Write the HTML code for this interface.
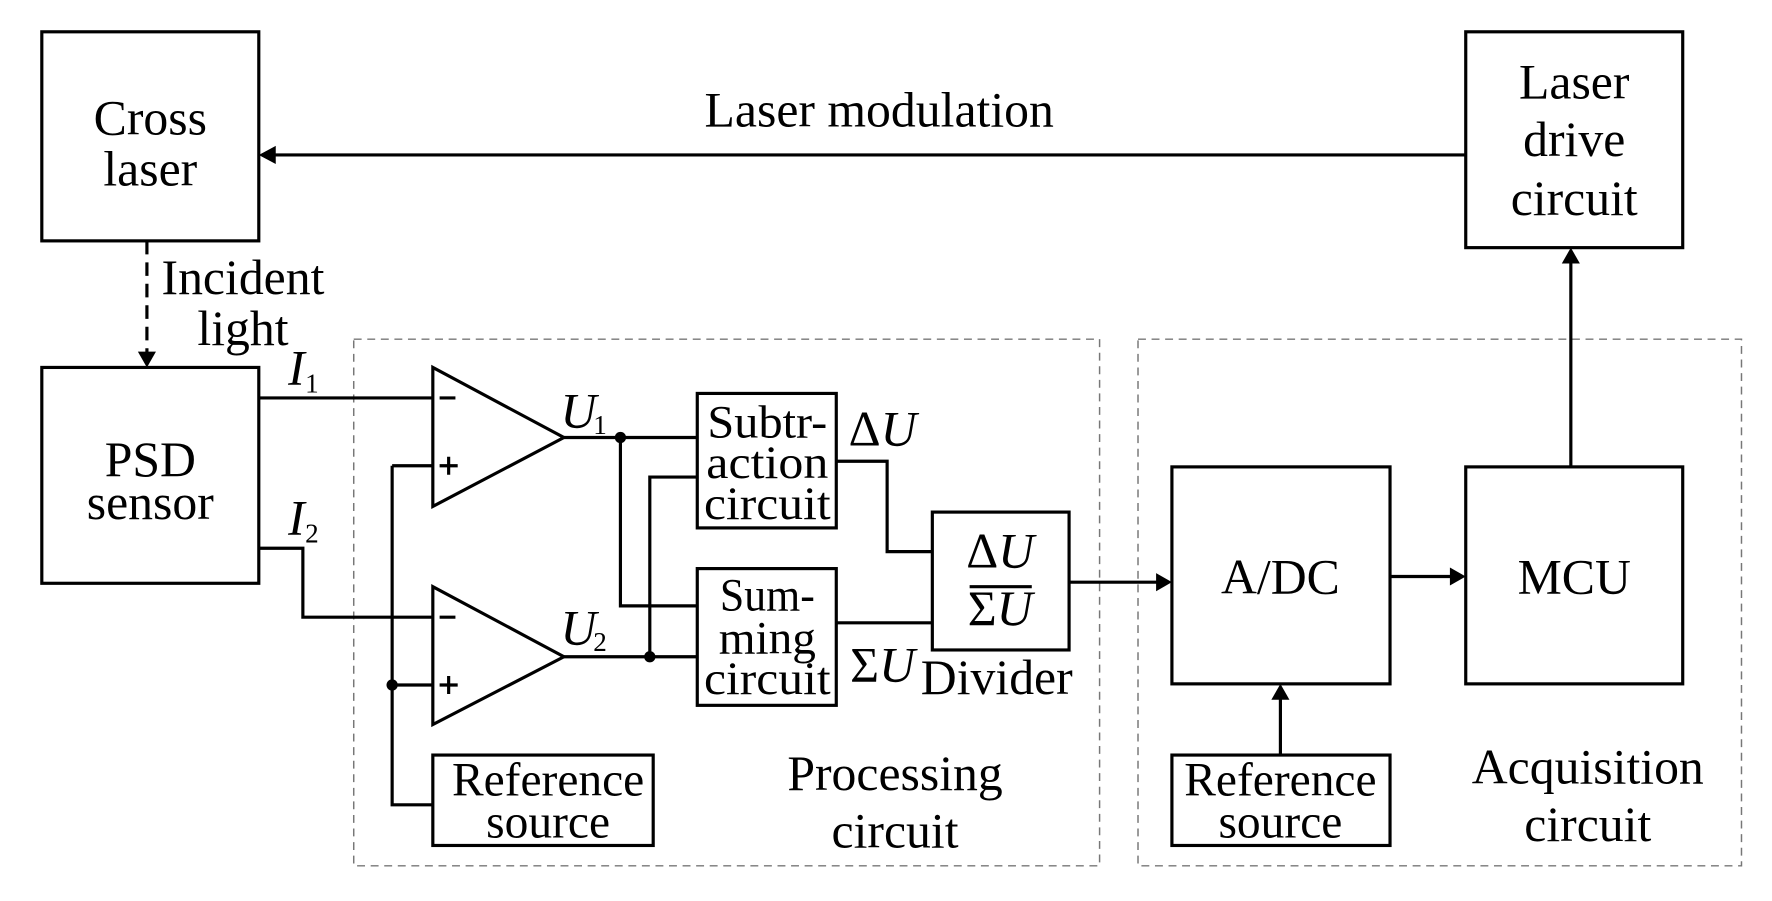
<!DOCTYPE html>
<html><head><meta charset="utf-8"><style>html,body{margin:0;padding:0;background:#fff}svg{display:block}text{font-family:"Liberation Serif","Times New Roman",serif}</style></head><body>
<svg width="1772" height="901" viewBox="0 0 1568 797" xmlns="http://www.w3.org/2000/svg" fill="none" stroke="#000" stroke-width="2.8">
<g stroke-width="1.3" stroke="#777" stroke-dasharray="7,5">
<rect x="313" y="300" width="660" height="466"/>
<rect x="1007" y="300" width="534" height="466"/>
</g>
<rect x="37" y="28" width="192" height="185"/>
<rect x="1297" y="28" width="192" height="191"/>
<rect x="37" y="325" width="192" height="191"/>
<rect x="617" y="348" width="123" height="119"/>
<rect x="617" y="503" width="123" height="121"/>
<rect x="825" y="453" width="121" height="122"/>
<rect x="383" y="668" width="195" height="80"/>
<rect x="1037" y="413" width="193" height="192"/>
<rect x="1297" y="413" width="192" height="192"/>
<rect x="1037" y="668" width="193" height="80"/>
<path d="M383,325 L499,387 L383,448 Z M383,519 L499,581 L383,641 Z"/>
<g>
<path d="M1297,137 H240"/><path d="M244,129 L229,137 L244,145 Z" fill="#000" stroke="none"/>
<path d="M130,213 V315" stroke-dasharray="12,7"/><path d="M122,311 L130,325 L138,311 Z" fill="#000" stroke="none"/>
<path d="M229,352 H383 M229,485 H268 V546 H383 M347,412 H383 M347,412 V712 H383 M347,606 H383"/>
<path d="M499,387 H617 M549,387 V536 H617 M499,581 H617 M575,581 V422 H617"/>
<path d="M740,408 H785 V488 H825 M740,551 H825"/>
<path d="M946,515 H1025"/><path d="M1023,507 L1037,515 L1023,523 Z" fill="#000" stroke="none"/>
<path d="M1230,510 H1285"/><path d="M1283,502 L1297,510 L1283,518 Z" fill="#000" stroke="none"/>
<path d="M1390,413 V231"/><path d="M1382,233 L1390,219 L1398,233 Z" fill="#000" stroke="none"/>
<path d="M1133,668 V617"/><path d="M1125,619 L1133,605 L1141,619 Z" fill="#000" stroke="none"/>
<path d="M858,519 H913"/>
<path d="M389,352 H403 M389,412 H405 M397,404 V420 M389,546 H403 M389,606 H405 M397,598 V614"/>
</g>
<g fill="#000" stroke="none"><circle cx="549" cy="387" r="5"/><circle cx="575" cy="581" r="5"/><circle cx="347" cy="606" r="5"/></g>
<g fill="#000" stroke="none" font-size="44" text-anchor="middle">
<text x="133" y="119">Cross</text><text x="133" y="164">laser</text>
<text x="1393" y="87">Laser</text><text x="1393" y="138">drive</text><text x="1393" y="190">circuit</text>
<text x="778" y="112">Laser modulation</text>
<text x="215" y="260">Incident</text><text x="215" y="305">light</text>
<text x="133" y="421">PSD</text><text x="133" y="459">sensor</text>
<text x="1133" y="525">A/DC</text><text x="1393" y="525">MCU</text>
<g font-size="42"><text x="485" y="704">Reference</text><text x="485" y="741">source</text>
<text x="1133" y="704">Reference</text><text x="1133" y="741">source</text></g>
<text x="792" y="699">Processing</text><text x="792" y="750">circuit</text>
<text x="1405" y="693">Acquisition</text><text x="1405" y="744">circuit</text>
<text x="882" y="614">Divider</text>
<g font-size="41"><text x="679" y="387" textLength="106" lengthAdjust="spacingAndGlyphs">Subtr-</text><text x="679" y="423" textLength="108" lengthAdjust="spacingAndGlyphs">action</text><text x="679" y="459" textLength="112" lengthAdjust="spacingAndGlyphs">circuit</text>
<text x="679" y="540" textLength="84" lengthAdjust="spacingAndGlyphs">Sum-</text><text x="679" y="578" textLength="86" lengthAdjust="spacingAndGlyphs">ming</text><text x="679" y="614" textLength="112" lengthAdjust="spacingAndGlyphs">circuit</text></g>
<text x="885" y="502">Δ<tspan font-style="italic">U</tspan></text>
<text x="885" y="553">Σ<tspan font-style="italic">U</tspan></text>
<text x="781" y="394">Δ<tspan font-style="italic">U</tspan></text>
<text x="781" y="603">Σ<tspan font-style="italic">U</tspan></text>
<g text-anchor="start" font-style="italic">
<text x="255" y="340">I</text><text x="270" y="347" font-size="24" font-style="normal">1</text>
<text x="255" y="473">I</text><text x="270" y="480" font-size="24" font-style="normal">2</text>
<text x="496" y="378">U</text><text x="525" y="384" font-size="24" font-style="normal">1</text>
<text x="496" y="570">U</text><text x="525" y="576" font-size="24" font-style="normal">2</text>
</g>
</g>
</svg>
</body></html>
